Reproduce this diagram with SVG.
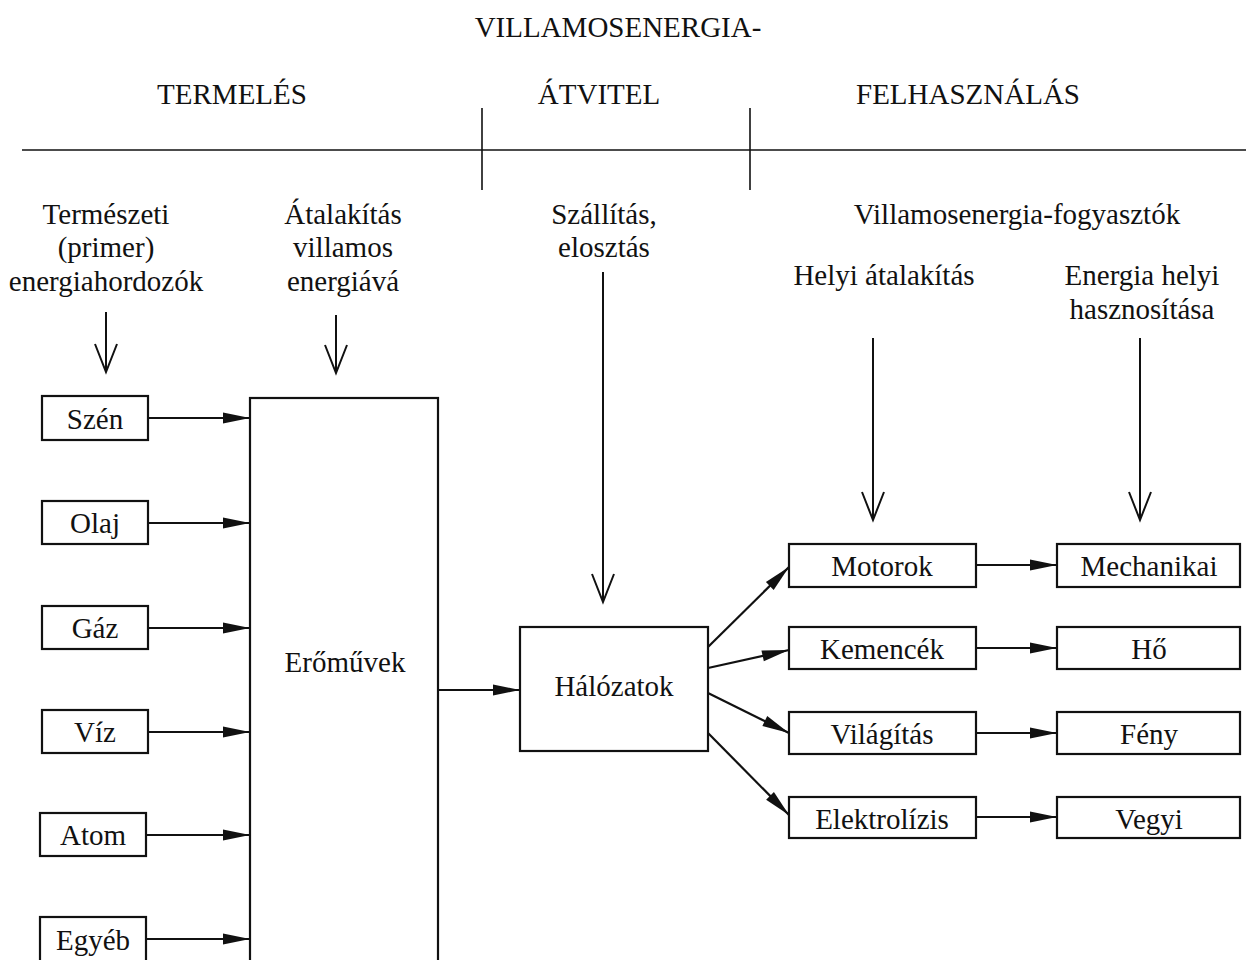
<svg xmlns="http://www.w3.org/2000/svg" width="1246" height="960" viewBox="0 0 1246 960">
<style>
text{font-family:"Liberation Serif","Times New Roman",serif;font-size:29px;fill:#111;text-anchor:middle}
.box{fill:#fff;stroke:#111;stroke-width:2.2}
.ln{stroke:#111;stroke-width:2;fill:none}
.thin{stroke:#111;stroke-width:1.6;fill:none}
.arr{stroke:#111;stroke-width:2.2;fill:none;marker-end:url(#fill)}
.vee{stroke:#111;stroke-width:2;fill:none;marker-end:url(#vee)}
</style>
<defs>
<marker id="fill" markerUnits="userSpaceOnUse" markerWidth="30" markerHeight="14" refX="27" refY="6" orient="auto" overflow="visible">
<path d="M0,0.5 L27,6 L0,11.5 z" fill="#111"/>
</marker>
<marker id="vee" markerUnits="userSpaceOnUse" markerWidth="30" markerHeight="26" refX="28" refY="11" orient="auto" overflow="visible">
<path d="M0,0 L28,11 L0,22" fill="none" stroke="#111" stroke-width="2"/>
</marker>
</defs>
<rect width="1246" height="960" fill="#fff"/>

<g id="header">
<text x="618" y="37">VILLAMOSENERGIA-</text>
<text x="232" y="104">TERMELÉS</text>
<text x="599" y="104">ÁTVITEL</text>
<text x="968" y="104">FELHASZNÁLÁS</text>
<line class="thin" x1="22" y1="150" x2="1246" y2="150"/>
<line class="thin" x1="482" y1="108" x2="482" y2="190"/>
<line class="thin" x1="750" y1="108" x2="750" y2="190"/>
</g>

<g id="labels">
<text x="106" y="224">Természeti</text>
<text x="106" y="257">(primer)</text>
<text x="106" y="291">energiahordozók</text>
<text x="343" y="224">Átalakítás</text>
<text x="343" y="257">villamos</text>
<text x="343" y="291">energiává</text>
<text x="604" y="224">Szállítás,</text>
<text x="604" y="257">elosztás</text>
<text x="1017" y="224">Villamosenergia-fogyasztók</text>
<text x="884" y="285">Helyi átalakítás</text>
<text x="1142" y="285">Energia helyi</text>
<text x="1142" y="319">hasznosítása</text>
</g>

<g id="szen"><rect class="box" x="42" y="396" width="106" height="44"/><text x="95" y="429">Szén</text></g>
<g id="olaj"><rect class="box" x="42" y="501" width="106" height="43"/><text x="95" y="533">Olaj</text></g>
<g id="gaz"><rect class="box" x="42" y="606" width="106" height="43"/><text x="95" y="638">Gáz</text></g>
<g id="viz"><rect class="box" x="42" y="710" width="106" height="43"/><text x="95" y="742">Víz</text></g>
<g id="atom"><rect class="box" x="40" y="813" width="106" height="43"/><text x="93" y="845">Atom</text></g>
<g id="egyeb"><rect class="box" x="40" y="917" width="106" height="50"/><text x="93" y="950">Egyéb</text></g>

<g id="eromuvek"><rect class="box" x="250" y="398" width="188" height="580"/><text x="345" y="672">Erőművek</text></g>
<g id="halozatok"><rect class="box" x="520" y="627" width="188" height="124"/><text x="614" y="696">Hálózatok</text></g>

<g id="motorok"><rect class="box" x="789" y="544" width="187" height="43"/><text x="882" y="576">Motorok</text></g>
<g id="kemencek"><rect class="box" x="789" y="627" width="187" height="42"/><text x="882" y="659">Kemencék</text></g>
<g id="vilagitas"><rect class="box" x="789" y="712" width="187" height="42"/><text x="882" y="744">Világítás</text></g>
<g id="elektrolizis"><rect class="box" x="789" y="797" width="187" height="41"/><text x="882" y="829">Elektrolízis</text></g>

<g id="mechanikai"><rect class="box" x="1057" y="544" width="183" height="43"/><text x="1149" y="576">Mechanikai</text></g>
<g id="ho"><rect class="box" x="1057" y="627" width="183" height="42"/><text x="1149" y="659">Hő</text></g>
<g id="feny"><rect class="box" x="1057" y="712" width="183" height="42"/><text x="1149" y="744">Fény</text></g>
<g id="vegyi"><rect class="box" x="1057" y="797" width="183" height="41"/><text x="1149" y="829">Vegyi</text></g>

<g id="connectors">
<line class="vee" x1="106" y1="312" x2="106" y2="372"/>
<line class="vee" x1="336" y1="315" x2="336" y2="373"/>
<line class="vee" x1="603" y1="272" x2="603" y2="602"/>
<line class="vee" x1="873" y1="338" x2="873" y2="520"/>
<line class="vee" x1="1140" y1="338" x2="1140" y2="520"/>

<line class="arr" x1="148" y1="418" x2="250" y2="418"/>
<line class="arr" x1="148" y1="523" x2="250" y2="523"/>
<line class="arr" x1="148" y1="628" x2="250" y2="628"/>
<line class="arr" x1="148" y1="732" x2="250" y2="732"/>
<line class="arr" x1="146" y1="835" x2="250" y2="835"/>
<line class="arr" x1="146" y1="939" x2="250" y2="939"/>

<line class="arr" x1="438" y1="690" x2="520" y2="690"/>

<line class="arr" x1="708" y1="647" x2="789" y2="567"/>
<line class="arr" x1="708" y1="668" x2="789" y2="650"/>
<line class="arr" x1="708" y1="693" x2="789" y2="733"/>
<line class="arr" x1="708" y1="733" x2="789" y2="815"/>

<line class="arr" x1="976" y1="565" x2="1057" y2="565"/>
<line class="arr" x1="976" y1="648" x2="1057" y2="648"/>
<line class="arr" x1="976" y1="733" x2="1057" y2="733"/>
<line class="arr" x1="976" y1="817" x2="1057" y2="817"/>
</g>
</svg>
